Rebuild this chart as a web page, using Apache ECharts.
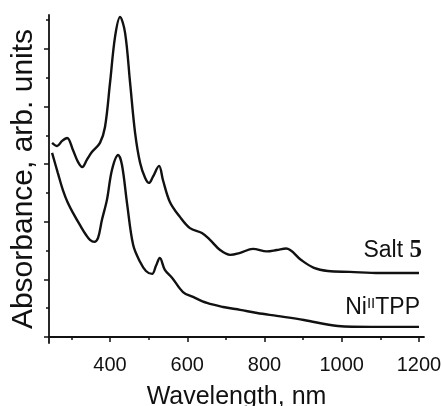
<!DOCTYPE html>
<html>
<head>
<meta charset="utf-8">
<script src="https://cdn.jsdelivr.net/npm/echarts@6/dist/echarts.min.js"></script>
<style>
html,body{margin:0;padding:0;background:#fff}
#chart{width:442px;height:406px}
</style>
</head>
<body>
<div id="chart"></div>
<script>
// Salt 5 (upper curve)
var saltX = [250,263,276,289,304,317,328,340,353,374,387,400,413,426,439,452,465,478,491,501,511,527,537,555,581,607,638,659,685,711,737,770,806,832,856,895,928,964,1021,1099,1200];
var saltY = [6.74,6.63,6.81,6.91,6.49,6.08,5.90,6.15,6.42,6.74,7.29,8.82,10.42,11.11,10.56,8.82,7.08,6.04,5.52,5.35,5.56,5.94,5.45,4.69,4.17,3.78,3.61,3.37,3.02,2.85,2.92,3.06,2.97,3.02,3.07,2.67,2.40,2.29,2.26,2.22,2.22];
// Ni(II)TPP (lower curve)
var niX = [250,265,278,291,307,322,338,348,359,369,379,392,405,421,431,444,460,478,493,509,519,529,542,561,589,615,651,693,737,781,832,902,990,1076,1200];
var niY = [6.39,5.69,5.10,4.65,4.24,3.89,3.54,3.37,3.30,3.44,4.06,4.76,5.80,6.32,5.97,4.65,3.19,2.60,2.29,2.19,2.47,2.74,2.33,2.05,1.56,1.39,1.18,1.04,0.94,0.83,0.73,0.59,0.38,0.35,0.35];

var xMajor = [400,600,800,1000,1200];
var xMinor = [300,500,700,900,1100];
var yMajor = [0,2,4,6,8,10];
var yMinor = [1,3,5,7,9,11];

function pairs(xs, ys){
    var out = [];
    xs.forEach(function(v, i){ out.push([v, ys[i]]) });
    return out;
}

var ink = '#111';
var font = 'Liberation Sans, Arial, sans-serif';
var gridBox = {left:49, right:18, top:15, bottom:63, containLabel:false, outerBoundsMode:'none'};

var chart = echarts.init(document.getElementById('chart'));
chart.setOption({
    backgroundColor: '#fff',
    animation: false,
    grid: [
        Object.assign({}, gridBox),
        Object.assign({}, gridBox)
    ],
    xAxis: [{
        type: 'value', gridIndex: 0, min: 242, max: 1213,
        axisLine: {lineStyle: {color: ink, width: 1.8}},
        axisTick: {customValues: xMajor, length: 5, lineStyle: {color: ink, width: 1.5}},
        axisLabel: {customValues: xMajor, fontSize: 20, color: ink, fontFamily: font, margin: 12,
            formatter: function(v){ return String(v) }},
        splitLine: {show: false},
        name: 'Wavelength, nm', nameLocation: 'middle', nameGap: 42,
        nameTextStyle: {fontSize: 25, color: ink, fontFamily: font}
    }, {
        type: 'value', gridIndex: 1, min: 242, max: 1213,
        axisLine: {show: false},
        axisTick: {customValues: xMinor, length: 3, lineStyle: {color: ink, width: 1.5}},
        axisLabel: {show: false},
        splitLine: {show: false}
    }],
    yAxis: [{
        type: 'value', gridIndex: 0, min: -0.21, max: 11.18,
        axisLine: {show: true, lineStyle: {color: ink, width: 1.8}},
        axisTick: {show: true, customValues: yMajor, length: 5, lineStyle: {color: ink, width: 1.5}},
        axisLabel: {show: false},
        splitLine: {show: false},
        name: 'Absorbance, arb. units', nameLocation: 'middle', nameGap: 10,
        nameTextStyle: {fontSize: 30, color: ink, fontFamily: font}
    }, {
        type: 'value', gridIndex: 1, min: -0.21, max: 11.18,
        axisLine: {show: false},
        axisTick: {show: true, customValues: yMinor, length: 3, lineStyle: {color: ink, width: 1.5}},
        axisLabel: {show: false},
        splitLine: {show: false}
    }],
    series: [{
        name: 'Salt 5', type: 'line', xAxisIndex: 0, yAxisIndex: 0,
        data: pairs(saltX, saltY), smooth: 0.35, showSymbol: false,
        lineStyle: {color: ink, width: 2.4}
    }, {
        name: 'NiIITPP', type: 'line', xAxisIndex: 0, yAxisIndex: 0,
        data: pairs(niX, niY), smooth: 0.35, showSymbol: false,
        lineStyle: {color: ink, width: 2.4}
    }],
    graphic: [{
        type: 'text', right: 20, top: 238,
        style: {
            text: '{a|Salt }{b|5}',
            rich: {
                a: {fontSize: 23, fontFamily: font, fill: ink},
                b: {fontSize: 25, fontWeight: 'bold', fontFamily: 'Liberation Serif, serif', fill: ink}
            }
        }
    }, {
        type: 'text', right: 22, top: 296,
        style: {
            text: '{a|Ni}{s|II}{a|TPP}',
            rich: {
                a: {fontSize: 23, fontFamily: font, fill: ink},
                s: {fontSize: 15, fontFamily: font, fill: ink, verticalAlign: 'top'}
            }
        }
    }]
});
</script>
</body>
</html>
